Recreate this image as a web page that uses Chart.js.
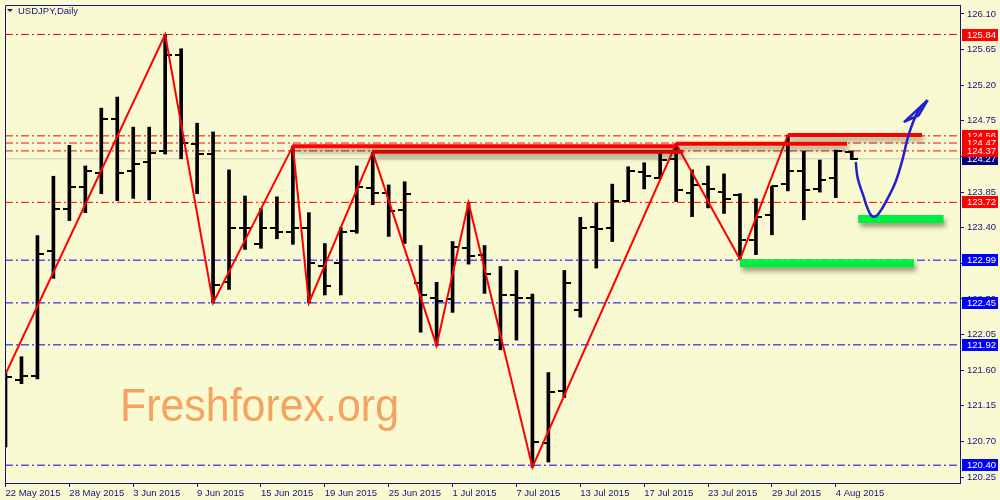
<!DOCTYPE html>
<html>
<head>
<meta charset="utf-8">
<title>USDJPY, Daily</title>
<script src="https://cdn.jsdelivr.net/npm/chart.js@4.4.1/dist/chart.umd.min.js"></script>
<style>
    html, body { margin: 0; padding: 0; background: #FAFAD2; }
    #wrap { width: 1000px; height: 500px; }
</style>
</head>
<body>
<div id="wrap"><canvas id="chart" width="1000" height="500"></canvas></div>
<script>
// Daily OHLC, 22 May 2015 .. 5 Aug 2015 (trading days only, index 0 = 22 May)
const opens  = [121.53, 121.47, 121.53, 123.10, 123.64, 123.92, 124.09, 124.77, 124.12, 124.23,
                124.37, 125.585, 124.46, 124.33, 122.72, 123.39, 123.19, 123.40, 123.35, 123.39,
                122.92, 122.95, 123.36, 123.90, 123.84, 123.625, 122.70, 122.51, 122.50, 123.14,
                123.05, 121.98, 122.55, 122.51, 120.68, 121.34, 122.36, 123.41, 123.39, 123.74,
                124.10, 124.03, 124.27, 123.84, 123.95, 123.85, 123.815, 123.24, 123.56, 123.95,
                124.12, 123.89, 124.03, 124.355];
const highs  = [121.56, 121.77, 123.30, 124.05, 124.44, 124.18, 124.91, 125.05, 124.67, 124.67,
                125.84, 125.66, 124.72, 124.61, 124.13, 123.80, 123.64, 123.79, 124.43, 123.59,
                123.20, 123.40, 124.18, 124.355, 123.94, 123.98, 123.175, 122.71, 123.225, 123.715,
                123.175, 122.91, 122.86, 122.56, 121.57, 122.86, 123.53, 123.715, 123.95, 124.17,
                124.22, 124.34, 124.46, 124.13, 124.18, 124.08, 123.83, 123.765, 123.92, 124.57,
                124.37, 124.255, 124.38, 124.37];
const lows   = [120.63, 121.43, 121.49, 122.76, 123.49, 123.59, 123.83, 123.74, 123.77, 123.75,
                124.33, 124.27, 123.83, 122.45, 122.62, 123.125, 123.14, 123.26, 123.19, 122.45,
                122.55, 122.55, 123.33, 123.69, 123.29, 123.20, 122.08, 121.91, 122.33, 122.94,
                122.57, 121.857, 121.98, 120.375, 120.44, 121.255, 122.27, 122.89, 123.225, 123.73,
                123.89, 124.02, 123.73, 123.54, 123.65, 123.58, 123.00, 123.06, 123.31, 123.865,
                123.50, 123.85, 123.78, 124.26];
const closes = [121.52, 121.53, 123.07, 123.64, 123.92, 124.12, 124.77, 124.09, 124.20, 124.34,
                125.585, 124.47, 124.33, 122.67, 123.40, 123.39, 123.39, 123.34, 123.40, 122.95,
                122.66, 123.34, 123.92, 123.84, 123.61, 123.83, 122.55, 122.48, 123.15, 123.04,
                122.81, 122.55, 122.51, 120.69, 121.32, 122.70, 123.40, 123.38, 123.74, 124.12,
                124.05, 124.255, 123.88, 123.94, 123.89, 123.765, 123.24, 123.54, 123.93, 124.12,
                123.88, 124.00, 124.37, 124.27];

// Axis labels
const dateTickIdx = [0, 4, 8, 12, 16, 20, 24, 28, 32, 36, 40, 44, 48, 52];
const dateLabels = ['22 May 2015', '28 May 2015', '3 Jun 2015', '9 Jun 2015', '15 Jun 2015',
                    '19 Jun 2015', '25 Jun 2015', '1 Jul 2015', '7 Jul 2015', '13 Jul 2015',
                    '17 Jul 2015', '23 Jul 2015', '29 Jul 2015', '4 Aug 2015'];
const priceTicks = [126.10, 125.65, 125.20, 124.75, 124.30, 123.85, 123.40, 122.95,
                    122.50, 122.05, 121.60, 121.15, 120.70, 120.25];

// Horizontal levels (dash-dot), red above / blue below
const redLevels = [125.84, 124.56, 124.47, 124.37, 123.72];
const blueLevels = [122.99, 122.45, 121.92, 120.40];
const bidPrice = 124.27;

// Zigzag swing points: bar index / price
const zigzagIdx = [0, 10, 13, 18, 19, 23, 27, 29, 33, 42, 46, 49];
const zigzagPrice = [121.55, 125.84, 122.45, 124.43, 122.45, 124.355, 121.91, 123.715, 120.375, 124.46, 123.00, 124.57];

// Resistance strokes (start idx, end idx, price)
const resistStart = [18, 23, 42, 49];
const resistEnd   = [41.9, 42.45, 52.7, 57.4];
const resistPrice = [124.43, 124.36, 124.46, 124.57];

// Support zones (start idx, end idx, price)
const supportStart = [46, 53.4];
const supportEnd   = [56.9, 58.75];
const supportPrice = [122.95, 123.51];

// Hand drawn forecast arrow
const arrowIdx   = [53.25, 53.38, 53.75, 54.0, 54.31, 54.69, 55.25, 55.75, 56.19, 56.56, 57.13, 57.75];
const arrowPrice = [124.23, 124.02, 123.79, 123.64, 123.54, 123.58, 123.77, 123.98, 124.27, 124.57, 124.86, 125.01];
const headIdx   = [57.75, 56.31, 57.19, 57.75];
const headPrice = [125.01, 124.74, 124.82, 125.01];

const X_MIN = -0.03125;
const X_MAX = 59.78;
const Y_MIN = 120.175;
const Y_MAX = 126.213;

const NAVY = '#14147A';
const BG = '#FAFAD2';
const FONT = { family: 'Liberation Sans, Arial, sans-serif', size: 9.5 };

// open / close tick images
function makeTick(left) {
    const c = document.createElement('canvas');
    c.width = 13;
    c.height = 2;
    const g = c.getContext('2d');
    g.fillStyle = '#000';
    if (left) g.fillRect(0, 0, 7, 2);
    else g.fillRect(6, 0, 7, 2);
    return c;
}
const openTick = makeTick(true);
const closeTick = makeTick(false);

const datasets = [];

function hLine(price, color, dash, order) {
    return {
        type: 'line',
        data: [{ x: X_MIN, y: price }, { x: X_MAX, y: price }],
        borderColor: color,
        borderWidth: 1,
        borderDash: dash,
        pointRadius: 0,
        order: order
    };
}

redLevels.forEach(p => datasets.push(hLine(p, '#FF0000', [8, 3, 2, 3], 20)));
blueLevels.forEach(p => datasets.push(hLine(p, '#0000FF', [8, 3, 2, 3], 20)));
datasets.push(hLine(bidPrice, '#C8C8B8', [], 19));

// High-low ranges
datasets.push({
    type: 'bar',
    data: highs.map((h, i) => ({ x: i, y: [lows[i], h] })),
    backgroundColor: '#000000',
    barThickness: 3,
    order: 10
});
datasets.push({
    type: 'line',
    data: opens.map((o, i) => ({ x: i, y: o })),
    showLine: false,
    pointStyle: openTick,
    pointRadius: 3,
    order: 9
});
datasets.push({
    type: 'line',
    data: closes.map((c, i) => ({ x: i, y: c })),
    showLine: false,
    pointStyle: closeTick,
    pointRadius: 3,
    order: 9
});

// Zigzag
datasets.push({
    type: 'line',
    data: zigzagIdx.map((x, i) => ({ x: x, y: zigzagPrice[i] })),
    borderColor: '#FF0000',
    borderWidth: 2,
    pointRadius: 0,
    order: 8
});

// Resistance
resistPrice.forEach((p, i) => {
    datasets.push({
        type: 'line',
        data: [{ x: resistStart[i], y: p }, { x: resistEnd[i], y: p }],
        borderColor: '#FF0000',
        borderWidth: 4,
        borderCapStyle: 'butt',
        pointRadius: 0,
        shadow: true,
        order: 6
    });
});

// Support zones
supportPrice.forEach((p, i) => {
    datasets.push({
        type: 'line',
        data: [{ x: supportStart[i], y: p }, { x: supportEnd[i], y: p }],
        borderColor: '#00EE40',
        borderWidth: 8,
        borderCapStyle: 'butt',
        pointRadius: 0,
        shadow: true,
        order: 5
    });
});

// Arrow
datasets.push({
    type: 'line',
    data: arrowIdx.map((x, i) => ({ x: x, y: arrowPrice[i] })),
    borderColor: '#2020CC',
    borderWidth: 2.5,
    tension: 0.4,
    pointRadius: 0,
    order: 1
});
datasets.push({
    type: 'line',
    data: headIdx.map((x, i) => ({ x: x, y: headPrice[i] })),
    borderColor: '#2020CC',
    borderWidth: 2.5,
    borderJoinStyle: 'round',
    pointRadius: 0,
    order: 1
});

// Background, watermark, frame, title and price tags
const decorPlugin = {
    id: 'decor',
    beforeDraw(chart) {
        const ctx = chart.ctx;
        ctx.save();
        ctx.fillStyle = BG;
        ctx.fillRect(0, 0, chart.width, chart.height);
        ctx.restore();
    },
    beforeDatasetsDraw(chart) {
        const ctx = chart.ctx;
        ctx.save();
        ctx.fillStyle = '#F4A460';
        ctx.font = '46px "Liberation Sans", Arial, sans-serif';
        ctx.textBaseline = 'alphabetic';
        ctx.fillText('Freshforex.org', 120, 421, 279);
        ctx.restore();
    },
    beforeDatasetDraw(chart, args) {
        if (!args.meta._dataset.shadow) return;
        const ctx = chart.ctx;
        ctx.save();
        ctx.shadowColor = 'rgba(40, 40, 20, 0.45)';
        ctx.shadowBlur = 5;
        ctx.shadowOffsetX = 2;
        ctx.shadowOffsetY = 4;
    },
    afterDatasetDraw(chart, args) {
        if (!args.meta._dataset.shadow) return;
        chart.ctx.restore();
    },
    afterDraw(chart) {
        const ctx = chart.ctx;
        const a = chart.chartArea;
        const y = chart.scales.y;
        ctx.save();
        // left / top frame
        ctx.strokeStyle = NAVY;
        ctx.lineWidth = 1;
        ctx.beginPath();
        ctx.moveTo(a.left + 0.5, a.bottom);
        ctx.lineTo(a.left + 0.5, a.top + 0.5);
        ctx.lineTo(a.right, a.top + 0.5);
        ctx.stroke();

        // title
        ctx.fillStyle = NAVY;
        ctx.beginPath();
        ctx.moveTo(7, 9);
        ctx.lineTo(13, 9);
        ctx.lineTo(10, 12);
        ctx.closePath();
        ctx.fill();
        ctx.font = '9.5px "Liberation Sans", Arial, sans-serif';
        ctx.textBaseline = 'middle';
        ctx.fillText('USDJPY,Daily', 18, 11);

        // price tags
        const tag = (price, color) => {
            const py = Math.round(y.getPixelForValue(price));
            ctx.fillStyle = color;
            ctx.fillRect(a.right + 2, py - 6, 36, 12);
            ctx.fillStyle = '#FFFFFF';
            ctx.fillText(price.toFixed(2), a.right + 7, py + 0.5);
        };
        tag(bidPrice, '#000080');
        redLevels.forEach(p => tag(p, '#FF0000'));
        blueLevels.forEach(p => tag(p, '#0000FF'));
        ctx.restore();
    }
};

new Chart(document.getElementById('chart'), {
    type: 'line',
    data: { datasets: datasets },
    options: {
        responsive: false,
        animation: false,
        devicePixelRatio: 1,
        layout: { padding: { left: 3, top: 2, right: 0, bottom: 0 } },
        plugins: {
            legend: { display: false },
            tooltip: { enabled: false }
        },
        scales: {
            x: {
                type: 'linear',
                position: 'bottom',
                offset: false,
                min: X_MIN,
                max: X_MAX,
                afterBuildTicks: s => { s.ticks = dateTickIdx.map(v => ({ value: v })); },
                afterFit: s => {
                    s.height = 17;
                    s.paddingLeft = 0;
                    s.paddingRight = 0;
                },
                grid: { display: true, offset: false, drawOnChartArea: false, drawTicks: true, tickLength: 4, color: NAVY },
                border: { display: true, color: NAVY, width: 1 },
                ticks: {
                    autoSkip: false,
                    maxRotation: 0,
                    align: 'start',
                    padding: 1,
                    color: NAVY,
                    font: FONT,
                    callback: (v, i) => dateLabels[i]
                }
            },
            y: {
                type: 'linear',
                position: 'right',
                min: Y_MIN,
                max: Y_MAX,
                afterBuildTicks: s => { s.ticks = priceTicks.map(v => ({ value: v })); },
                afterFit: s => {
                    s.width = 40;
                    s.paddingTop = 0;
                    s.paddingBottom = 0;
                },
                grid: { display: true, drawOnChartArea: false, drawTicks: true, tickLength: 4, color: NAVY },
                border: { display: true, color: NAVY, width: 1 },
                ticks: {
                    padding: 3,
                    color: NAVY,
                    font: FONT,
                    callback: v => v.toFixed(2)
                }
            }
        }
    },
    plugins: [decorPlugin]
});
</script>
</body>
</html>
